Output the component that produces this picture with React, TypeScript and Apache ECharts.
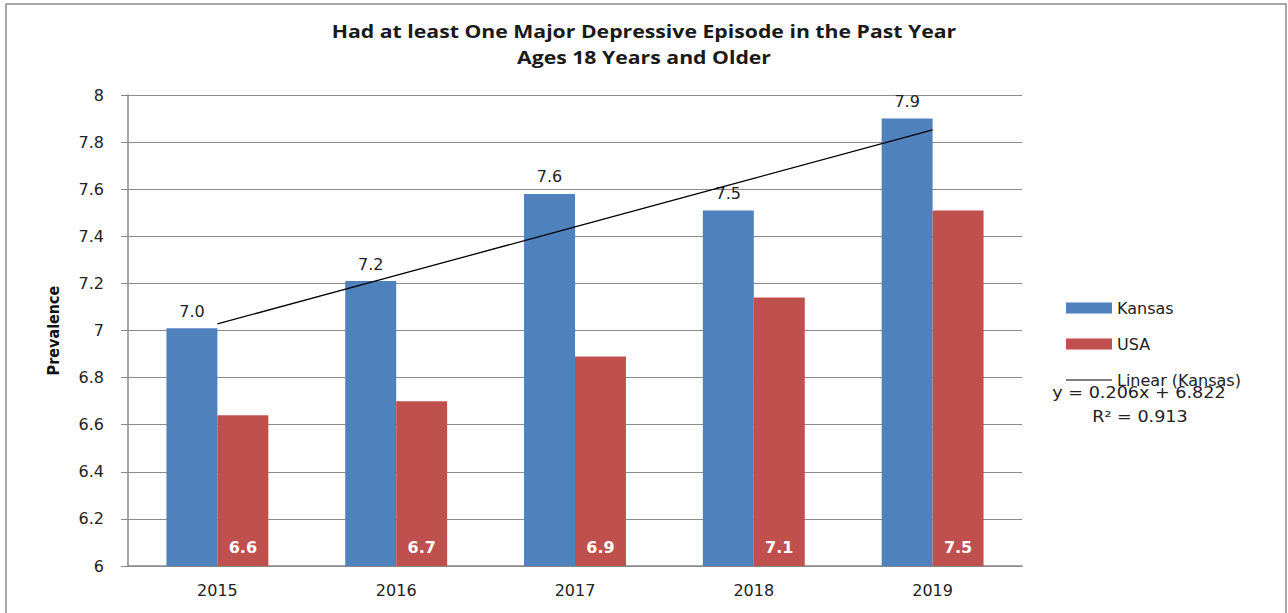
import React, { useEffect, useRef } from "react";
import * as echarts from "echarts";

const categories = ["2015", "2016", "2017", "2018", "2019"];
const kansasValues = [7.01, 7.21, 7.58, 7.51, 7.9];
const usaValues = [6.64, 6.7, 6.89, 7.14, 7.51];
const trendValues = [7.028, 7.234, 7.44, 7.646, 7.852];
const titleLines = ["Had at least One Major Depressive Episode in the Past Year", "Ages 18 Years and Older"];
const trendEquation = "y = 0.206x + 6.822";
const trendR2 = "R² = 0.913";

const FONT = "'DejaVu Sans', Verdana, sans-serif";

export default function App() {
  const ref = useRef<HTMLDivElement>(null);
  useEffect(() => {
    document.body.style.margin = "0";
    const chart = echarts.init(ref.current!, null, { renderer: "svg" });
    chart.setOption({
      animation: false,
      backgroundColor: "#ffffff",
      legend: {
        orient: "vertical",
        left: 1061,
        top: 295,
        itemWidth: 46,
        itemHeight: 11,
        itemGap: 20,
        textStyle: { fontFamily: FONT, fontSize: 16, color: "#222" },
        data: [
          { name: "Kansas", icon: "rect" },
          { name: "USA", icon: "rect" },
          {
            name: "Linear (Kansas)",
            icon: "path://M0,0 L46,0 L46,1 L0,1 Z",
            itemStyle: { color: "#000" },
          },
        ],
      },
      grid: { left: 128, right: 266, top: 95, bottom: 47 },
      xAxis: {
        type: "category",
        data: categories,
        axisLine: { lineStyle: { color: "#888", width: 1.5 } },
        axisTick: { show: false },
        axisLabel: { fontFamily: FONT, fontSize: 16, color: "#222", margin: 16 },
      },
      yAxis: {
        type: "value",
        min: 6,
        max: 8,
        interval: 0.2,
        name: "Prevalence",
        nameLocation: "middle",
        nameGap: 67,
        nameTextStyle: {
          fontFamily: "'Liberation Sans Narrow', 'DejaVu Sans Condensed', Arial, sans-serif",
          fontWeight: "bold",
          fontSize: 16,
          color: "#111",
        },
        axisLine: { show: true, lineStyle: { color: "#888", width: 1.5 } },
        axisTick: { show: true, length: 7, lineStyle: { color: "#888" } },
        axisLabel: {
          fontFamily: FONT,
          fontSize: 16,
          color: "#222",
          margin: 24,
          formatter: (v: number) => String(Math.round(v * 10) / 10),
        },
        splitLine: { lineStyle: { color: "#8c8c8c", width: 1.2 } },
      },
      series: [
        {
          name: "Kansas",
          type: "bar",
          data: kansasValues,
          barGap: "0%",
          barCategoryGap: "43%",
          itemStyle: { color: "#4F81BD" },
          label: {
            show: true,
            position: "top",
            distance: 9,
            fontFamily: FONT,
            fontSize: 16,
            color: "#222",
            formatter: (p: any) => Number(p.value).toFixed(1),
          },
        },
        {
          name: "USA",
          type: "bar",
          data: usaValues,
          itemStyle: { color: "#C0504D" },
          label: {
            show: true,
            position: "insideBottom",
            distance: 11,
            fontFamily: FONT,
            fontWeight: "bold",
            fontSize: 16,
            color: "#ffffff",
            formatter: (p: any) => Number(p.value).toFixed(1),
          },
        },
        {
          name: "Linear (Kansas)",
          type: "line",
          data: trendValues,
          symbol: "none",
          z: 10,
          lineStyle: { color: "#000", width: 1.3 },
          itemStyle: { color: "#000" },
        },
      ],
      graphic: [
        {
          type: "rect",
          shape: { x: 6, y: 4, width: 1280, height: 640 },
          style: { fill: "none", stroke: "#8c8c8c", lineWidth: 1.5 },
          silent: true,
        },
        ...titleLines.map((t, i) => ({
          type: "text",
          x: 644,
          y: 31 + i * 26,
          scaleX: 1.18,
          style: {
            text: t,
            fontFamily: "'Open Sans', Lato, sans-serif",
            fontWeight: "bold",
            fontSize: 18,
            fill: "#1a1a1a",
            align: "center",
            verticalAlign: "middle",
          },
        })),
        {
          type: "text",
          x: 1139,
          y: 392,
          scaleX: 1.1,
          style: {
            text: trendEquation,
            fontFamily: FONT,
            fontSize: 16,
            fill: "#222",
            align: "center",
            verticalAlign: "middle",
          },
        },
        {
          type: "text",
          x: 1140,
          y: 416,
          scaleX: 1.1,
          style: {
            text: trendR2,
            fontFamily: FONT,
            fontSize: 16,
            fill: "#222",
            align: "center",
            verticalAlign: "middle",
          },
        },
      ],
    });
    return () => chart.dispose();
  }, []);
  return <div ref={ref} style={{ width: 1288, height: 613 }} />;
}
